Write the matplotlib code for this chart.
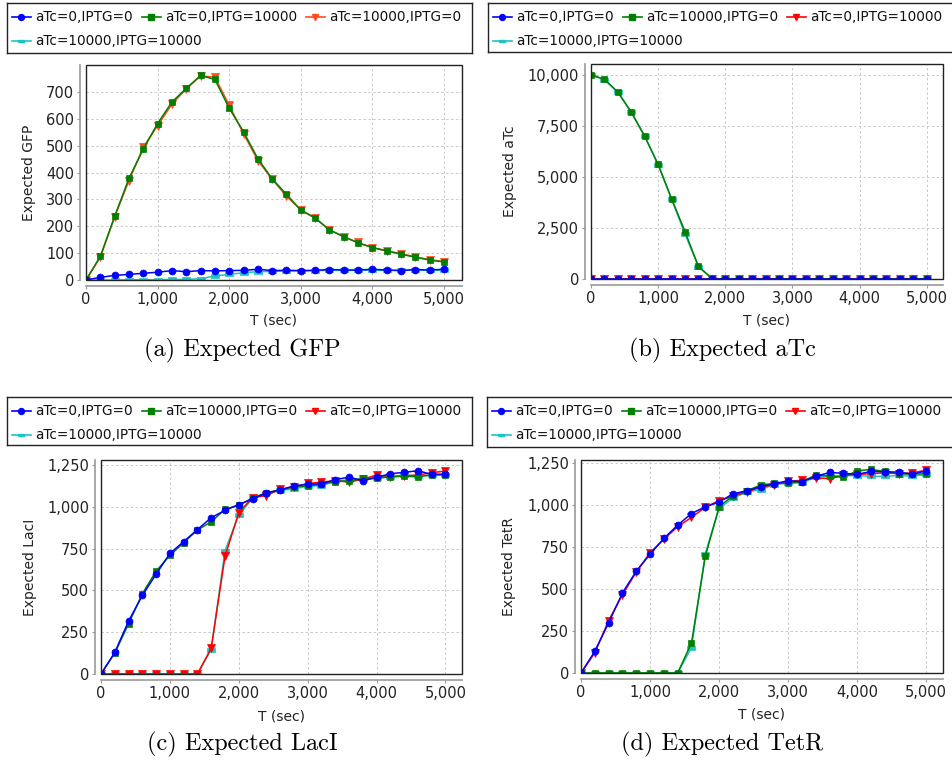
import matplotlib
matplotlib.use('Agg')
import matplotlib.pyplot as plt
import matplotlib.transforms as mtransforms
from matplotlib.lines import Line2D
from matplotlib.patches import Rectangle
from matplotlib.ticker import FuncFormatter


# time points (sec)
T = [0, 200, 400, 600, 800, 1000, 1200, 1400, 1600, 1800, 2000, 2200, 2400,
     2600, 2800, 3000, 3200, 3400, 3600, 3800, 4000, 4200, 4400, 4600, 4800, 5000]

# (a) expected GFP
gfp_a0_i0 = [0, 10, 17, 21, 25, 29, 35, 31, 35, 34, 35, 36, 40, 35, 36, 35, 36, 39, 37, 37, 40, 37, 35, 39, 37, 40]
gfp_a0_i10000 = [0, 88, 237, 379, 487, 583, 663, 714, 762, 747, 640, 552, 452, 377, 319, 260, 231, 186, 162, 138, 121, 109, 96, 85, 74, 67]
gfp_a10000_i0 = [0, 85, 235, 370, 495, 575, 655, 712, 760, 756, 651, 545, 445, 375, 312, 262, 230, 188, 160, 140, 120, 108, 98, 86, 76, 68]
gfp_a10000_i10000 = [0, 0, 0, 1, 1, 1, 2, 2, 5, 15, 21, 27, 31, 32, 34, 34, 35, 36, 36, 36, 37, 36, 36, 37, 36, 37]

# (b) expected aTc
atc_a0_i0 = [0] * 26
atc_a10000_i0 = [10000, 9770, 9150, 8170, 6980, 5610, 3930, 2320, 620, 30, 0, 0, 0, 0, 0, 0, 0, 0, 0, 0, 0, 0, 0, 0, 0, 0]
atc_a0_i10000 = [0] * 26
atc_a10000_i10000 = [10000, 9760, 9140, 8160, 6990, 5590, 3910, 2200, 600, 20, 0, 0, 0, 0, 0, 0, 0, 0, 0, 0, 0, 0, 0, 0, 0, 0]

# (c) expected LacI
laci_a0_i0 = [0, 129, 316, 470, 597, 721, 792, 864, 935, 979, 1013, 1047, 1083, 1101, 1125, 1135, 1137, 1162, 1178, 1156, 1176, 1198, 1206, 1216, 1194, 1196]
laci_a10000_i0 = [0, 125, 300, 480, 615, 710, 785, 862, 910, 985, 1010, 1052, 1085, 1100, 1120, 1125, 1135, 1150, 1155, 1170, 1172, 1180, 1182, 1180, 1190, 1192]
laci_a0_i10000 = [0, 0, 0, 0, 0, 0, 0, 0, 155, 703, 965, 1055, 1067, 1105, 1117, 1140, 1147, 1157, 1148, 1165, 1190, 1180, 1185, 1190, 1204, 1214]
laci_a10000_i10000 = [0, 0, 0, 0, 0, 0, 0, 0, 145, 738, 951, 1050, 1080, 1100, 1105, 1125, 1125, 1155, 1160, 1165, 1170, 1180, 1190, 1185, 1190, 1190]

# (d) expected TetR
tetr_a0_i0 = [0, 129, 298, 476, 605, 706, 800, 879, 948, 988, 1016, 1065, 1083, 1107, 1125, 1143, 1137, 1169, 1192, 1187, 1181, 1198, 1196, 1194, 1181, 1202]
tetr_a10000_i0 = [0, 0, 0, 0, 0, 0, 0, 0, 179, 694, 988, 1054, 1083, 1117, 1127, 1127, 1137, 1177, 1171, 1163, 1202, 1210, 1198, 1183, 1183, 1183]
tetr_a0_i10000 = [0, 120, 312, 465, 600, 715, 795, 870, 925, 985, 1025, 1050, 1075, 1105, 1118, 1140, 1145, 1160, 1155, 1175, 1180, 1185, 1190, 1185, 1190, 1205]
tetr_a10000_i10000 = [0, 0, 0, 0, 0, 0, 0, 0, 151, 710, 978, 1040, 1075, 1090, 1120, 1130, 1130, 1165, 1170, 1175, 1172, 1170, 1168, 1175, 1170, 1180]

BLUE = '#0000ff'
GREEN = '#008000'
RED = '#ff0000'
ORANGE = '#ff4a1c'
CYAN = '#1ec3c3'
HRECT = [(-1, -0.45), (1, -0.45), (1, 0.45), (-1, 0.45), (-1, -0.45)]

W, H = 953, 763
fig = plt.figure(figsize=(W / 100, H / 100), dpi=100)


def px_axes(l, t, r, b):
    return fig.add_axes([l / W, 1 - b / H, (r - l) / W, (b - t) / H])


def draw_legend(box, series):
    lax = px_axes(*box)
    w, h = box[2] - box[0], box[3] - box[1]
    lax.set_xlim(0, w)
    lax.set_ylim(h, 0)
    lax.set_xticks([])
    lax.set_yticks([])
    for sp in lax.spines.values():
        sp.set_color('#222222')
        sp.set_linewidth(1.0)
    slots = [(5, 14), (135, 14), (299, 14), (5, 38)]
    for (x0, y0), (label, vals, color, marker, ms) in zip(slots, series):
        lax.add_line(Line2D([x0, x0 + 19], [y0, y0], color=color, lw=1.2))
        lax.add_line(Line2D([x0 + 9.5], [y0], color=color, marker=marker,
                            markersize=ms * 0.85, lw=0))
        lax.text(x0 + 23, y0, label, va='center', ha='left', fontsize=9.8, color='#111111')


def draw_panel(box, leg_box, series, ylim, yticks, ylabel, ylabel_x, xlabel_y, caption, cap_xy, xmax):
    ax = px_axes(*box)
    n = len(series)
    for i, (label, vals, color, marker, ms) in enumerate(series):
        ax.plot(T, vals, color=color, marker=marker, markersize=ms, lw=1.1,
                markeredgewidth=0.5, zorder=3 + (n - i))
    ax.set_xlim(0, xmax)
    ax.set_ylim(*ylim)
    ax.set_xticks([0, 1000, 2000, 3000, 4000, 5000])
    ax.set_yticks(yticks)
    fmt = FuncFormatter(lambda v, p: '{:,.0f}'.format(v))
    ax.xaxis.set_major_formatter(fmt)
    ax.yaxis.set_major_formatter(fmt)
    ax.grid(True, color='#c8c8c8', linestyle=(0, (2.5, 2.5)), linewidth=0.7)
    ax.set_axisbelow(True)
    ax.spines['top'].set_visible(False)
    ax.spines['right'].set_visible(False)
    for side in ['left', 'bottom']:
        ax.spines[side].set_position(('outward', 4))
        ax.spines[side].set_color('#999999')
        ax.spines[side].set_linewidth(1.2)
    ax.add_patch(Rectangle((0, 0), 1, 1, transform=ax.transAxes, fill=False,
                           ec='#222222', lw=1.0, clip_on=False, zorder=10))
    ax.tick_params(direction='out', length=2.5, width=0.8, color='#999999',
                   labelsize=10.5, labelcolor='#222222', pad=2)
    ax.set_ylabel(ylabel, fontsize=10, color='#222222')
    ax.yaxis.set_label_coords(ylabel_x / W, 0.5,
                              transform=mtransforms.blended_transform_factory(fig.transFigure, ax.transAxes))
    ax.set_xlabel('T (sec)', fontsize=10, color='#222222')
    ax.xaxis.set_label_coords(0.5, 1 - xlabel_y / H,
                              transform=mtransforms.blended_transform_factory(ax.transAxes, fig.transFigure))
    ax.xaxis.label.set_va('center')
    ax.yaxis.label.set_va('center')
    fig.text(cap_xy[0] / W, 1 - cap_xy[1] / H, caption, ha='center', va='center',
             family='cmr10', fontsize=17.5)
    draw_legend(leg_box, series)


series_a = [
    ('aTc=0,IPTG=0', gfp_a0_i0, BLUE, 'o', 5),
    ('aTc=0,IPTG=10000', gfp_a0_i10000, GREEN, 's', 5),
    ('aTc=10000,IPTG=0', gfp_a10000_i0, ORANGE, 'v', 5.5),
    ('aTc=10000,IPTG=10000', gfp_a10000_i10000, CYAN, HRECT, 5.5),
]
series_b = [
    ('aTc=0,IPTG=0', atc_a0_i0, BLUE, 'o', 5),
    ('aTc=10000,IPTG=0', atc_a10000_i0, GREEN, 's', 5),
    ('aTc=0,IPTG=10000', atc_a0_i10000, RED, 'v', 5.5),
    ('aTc=10000,IPTG=10000', atc_a10000_i10000, CYAN, HRECT, 5.5),
]
series_c = [
    ('aTc=0,IPTG=0', laci_a0_i0, BLUE, 'o', 5),
    ('aTc=10000,IPTG=0', laci_a10000_i0, GREEN, 's', 5),
    ('aTc=0,IPTG=10000', laci_a0_i10000, RED, 'v', 5.5),
    ('aTc=10000,IPTG=10000', laci_a10000_i10000, CYAN, HRECT, 5.5),
]
series_d = [
    ('aTc=0,IPTG=0', tetr_a0_i0, BLUE, 'o', 5),
    ('aTc=10000,IPTG=0', tetr_a10000_i0, GREEN, 's', 5),
    ('aTc=0,IPTG=10000', tetr_a0_i10000, RED, 'v', 5.5),
    ('aTc=10000,IPTG=10000', tetr_a10000_i10000, CYAN, HRECT, 5.5),
]

draw_panel((86, 65, 462, 280), (7, 3, 472, 53), series_a, (0, 801),
           [0, 100, 200, 300, 400, 500, 600, 700], 'Expected GFP', 29, 321,
           '(a) Expected GFP', (242, 350), 5251)
draw_panel((591, 64, 943, 279), (488, 3, 956, 52), series_b, (0, 10524),
           [0, 2500, 5000, 7500, 10000], 'Expected aTc', 510, 321,
           '(b) Expected aTc', (722, 350), 5243)
draw_panel((101, 460, 462, 674), (7, 397, 472, 445), series_c, (0, 1280),
           [0, 250, 500, 750, 1000, 1250], 'Expected LacI', 30, 716,
           '(c) Expected LacI', (242, 744), 5241)
draw_panel((581, 460, 943, 673), (487, 397, 956, 447), series_d, (0, 1266),
           [0, 250, 500, 750, 1000, 1250], 'Expected TetR', 509, 715,
           '(d) Expected TetR', (722, 744), 5242)

fig.savefig('out.png', dpi=100)
